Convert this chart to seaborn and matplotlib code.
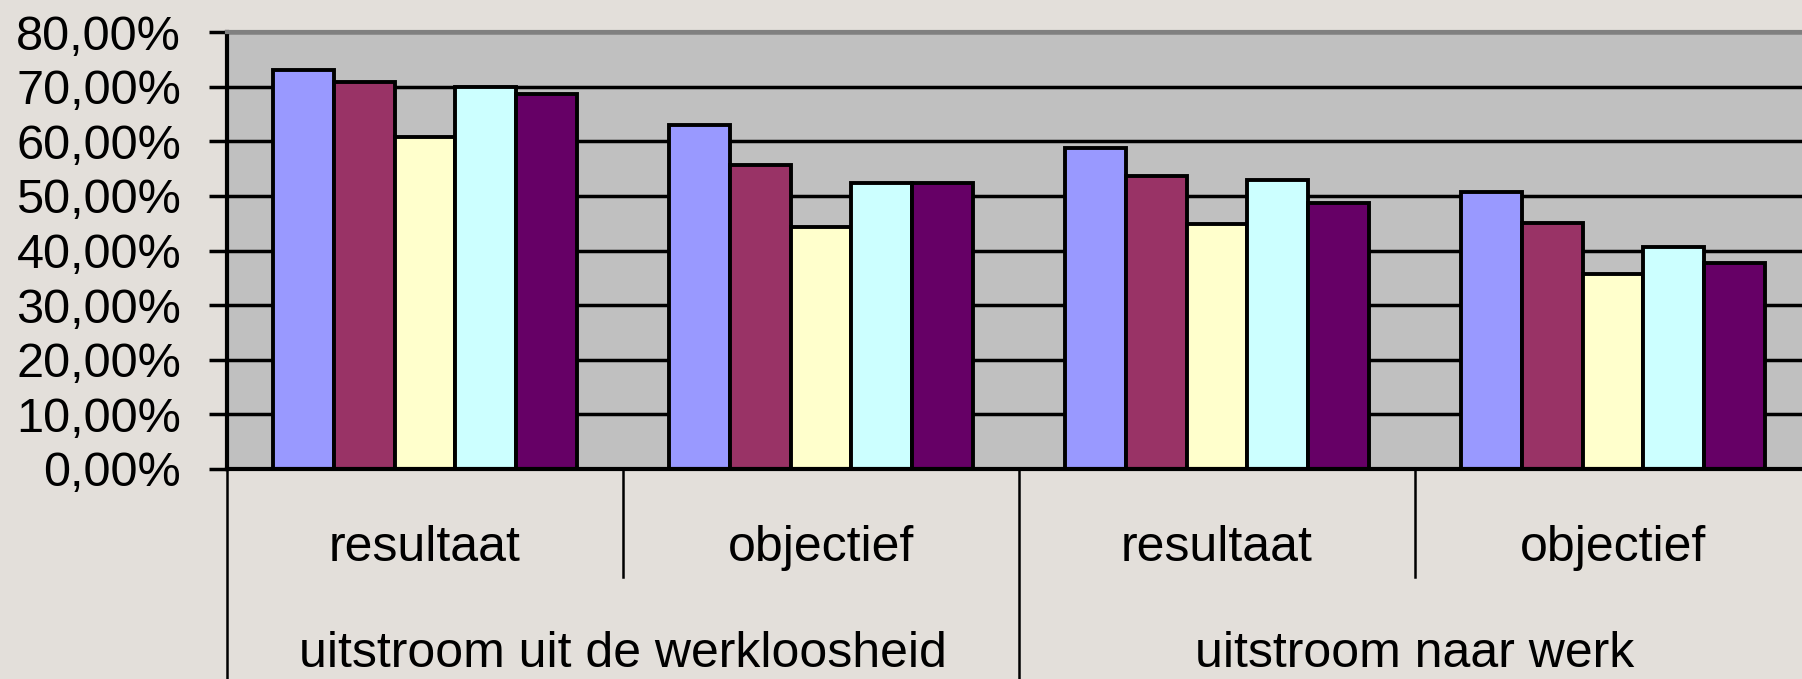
import matplotlib
matplotlib.use("Agg")
import matplotlib.pyplot as plt
import matplotlib.transforms as mtransforms
import pandas as pd
import seaborn as sns

# data (percentages)
hoofdgroepen = ["uitstroom uit de werkloosheid", "uitstroom naar werk"]
subgroepen = ["resultaat", "objectief", "resultaat", "objectief"]
kolommen = ["werkloosheid resultaat", "werkloosheid objectief",
            "werk resultaat", "werk objectief"]
reeksen = ["reeks 1", "reeks 2", "reeks 3", "reeks 4", "reeks 5"]
kleuren = ["#9999FF", "#993366", "#FFFFCC", "#CCFFFF", "#660066"]

reeks1 = [73.0, 62.9, 58.7, 50.7]
reeks2 = [70.8, 55.7, 53.7, 45.1]
reeks3 = [60.7, 44.3, 44.9, 35.7]
reeks4 = [69.9, 52.3, 52.9, 40.7]
reeks5 = [68.6, 52.3, 48.7, 37.8]

yticks = [0, 10, 20, 30, 40, 50, 60, 70, 80]

rows = []
for naam, waarden in zip(reeksen, [reeks1, reeks2, reeks3, reeks4, reeks5]):
    for kolom, w in zip(kolommen, waarden):
        rows.append({"kolom": kolom, "reeks": naam, "waarde": w})
df = pd.DataFrame(rows)

plt.rcParams["font.family"] = ["Liberation Sans", "DejaVu Sans"]

bg = "#E3DFDA"
fig = plt.figure(figsize=(18.02, 6.79), dpi=100, facecolor=bg)
ax = fig.add_axes([227 / 1802, 210 / 679, (1811 - 227) / 1802, 437 / 679])
ax.set_facecolor("#C0C0C0")

sns.barplot(
    data=df,
    x="kolom",
    y="waarde",
    hue="reeks",
    order=kolommen,
    hue_order=reeksen,
    palette=kleuren,
    saturation=1,
    width=0.77,
    errorbar=None,
    edgecolor="black",
    linewidth=2.8,
    legend=False,
    ax=ax,
)

ax.set_xlim(-0.5, 3.5)
ax.set_ylim(0, 80)
ax.set_yticks(yticks)
ax.set_yticklabels([f"{v:.2f}%".replace(".", ",") for v in yticks], fontsize=35)
ax.tick_params(axis="y", length=13, width=2.5, color="black", pad=20)
ax.set_axisbelow(True)
ax.yaxis.grid(True, color="black", linewidth=2.5)
ax.set_xticks([])
ax.set_xlabel("")
ax.set_ylabel("")

for side in ["left", "bottom"]:
    ax.spines[side].set_color("black")
    ax.spines[side].set_linewidth(3)
ax.spines["top"].set_color("#808080")
ax.spines["top"].set_linewidth(3)
ax.spines["right"].set_visible(False)

# two level category labels
trans = mtransforms.blended_transform_factory(ax.transData, ax.transAxes)
for i, lab in enumerate(subgroepen):
    ax.text(i, -0.2105, lab, transform=trans, ha="center", va="baseline",
            fontsize=36)
for i, lab in enumerate(hoofdgroepen):
    ax.text(2 * i + 0.5, -0.453, lab, transform=trans, ha="center",
            va="baseline", fontsize=36)

for x in [0.5, 2.5]:
    ax.plot([x, x], [0, -0.247], transform=trans, color="black",
            linewidth=1.8, clip_on=False)
for x in [-0.5, 1.5, 3.5]:
    ax.plot([x, x], [0, -0.6], transform=trans, color="black",
            linewidth=1.8, clip_on=False)

fig.savefig("out.png", dpi=100, facecolor=bg)
